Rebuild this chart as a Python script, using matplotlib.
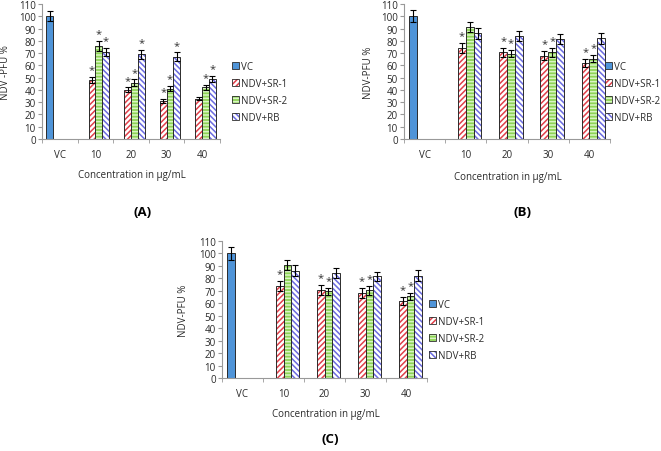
import matplotlib
matplotlib.use("Agg")
import matplotlib.pyplot as plt
import numpy as np
from matplotlib.patches import Patch

plt.rcParams['font.family'] = ['Open Sans', 'DejaVu Sans']
plt.rcParams['hatch.linewidth'] = 1.1

# categories and series
categories = ['VC', '10', '20', '30', '40']
series = ['VC', 'NDV+SR-1', 'NDV+SR-2', 'NDV+RB']

# panel A values (VC only has the VC series)
a_vc = [100]
a_vc_err = [4]
a_sr1 = [48, 40, 31, 33]
a_sr1_err = [2.5, 2, 2, 1.5]
a_sr2 = [76, 46, 41, 42]
a_sr2_err = [4, 2.5, 2, 2]
a_rb = [71, 69, 67, 49]
a_rb_err = [3.5, 3.5, 3.5, 2.5]
a_stars = {'NDV+SR-1': [1, 1, 1, 0], 'NDV+SR-2': [1, 1, 1, 1], 'NDV+RB': [1, 1, 1, 1]}

# panel B / C values
b_vc = [100]
b_vc_err = [5]
b_sr1 = [74, 70.5, 68, 62]
b_sr1_err = [4, 4, 4, 3]
b_sr2 = [91, 69.5, 70.5, 65.5]
b_sr2_err = [4, 3, 3.5, 3]
b_rb = [86, 84, 81.5, 82]
b_rb_err = [4.5, 4, 4, 4.5]
b_stars = {'NDV+SR-1': [1, 1, 1, 1], 'NDV+SR-2': [0, 1, 1, 1], 'NDV+RB': [0, 0, 0, 0]}

styles = {
    'VC': dict(face='#4f94d8', hatch=None, hcol=None),
    'NDV+SR-1': dict(face='white', hatch='//////', hcol='#e0404a'),
    'NDV+SR-2': dict(face='#8ed456', hatch='-----', hcol='#d9f5c4'),
    'NDV+RB': dict(face='white', hatch='\\\\\\\\\\\\', hcol='#6b6be0'),
}
edge = '#2b2b2b'
fs = 7


def draw_panel(rect, vc, vc_err, groups, stars, ylabel, ylab_x, xlab_y, leg_pos, tag, tag_pos):
    ax = fig.add_axes(rect)
    w = 0.19
    offs = {'VC': -1.5 * w, 'NDV+SR-1': -0.5 * w, 'NDV+SR-2': 0.5 * w, 'NDV+RB': 1.5 * w}
    x_conc = np.arange(1, 5)
    # VC bar
    st = styles['VC']
    ax.bar([0 + offs['VC']], vc, w, color=st['face'], edgecolor=edge, linewidth=0.7, zorder=2)
    ax.errorbar([0 + offs['VC']], vc, yerr=vc_err, fmt='none', ecolor='black',
                elinewidth=0.8, capsize=2, capthick=0.8, zorder=3)
    for name, (vals, errs) in groups.items():
        st = styles[name]
        xs = x_conc + offs[name]
        ax.bar(xs, vals, w, color=st['face'], edgecolor=st['hcol'], hatch=st['hatch'],
               linewidth=0, zorder=2)
        ax.bar(xs, vals, w, fill=False, edgecolor=edge, linewidth=0.7, zorder=2.5)
        ax.errorbar(xs, vals, yerr=errs, fmt='none', ecolor='black',
                    elinewidth=0.8, capsize=2, capthick=0.8, zorder=3)
        for xi, v, e, s in zip(xs, vals, errs, stars[name]):
            if s:
                ax.text(xi, v + e + 1.5, '*', ha='center', va='bottom', fontsize=8,
                        color='#333333')
    ax.set_xlim(-0.5, 4.5)
    ax.set_ylim(0, 110)
    ax.set_yticks(np.arange(0, 111, 10))
    ax.set_xticks(np.arange(5))
    ax.set_xticklabels(categories)
    ax.set_xticks(np.arange(-0.5, 4.6, 1), minor=True)
    ax.tick_params(axis='x', which='major', length=0, pad=7, labelsize=fs, colors='#2a2a2a')
    ax.tick_params(axis='x', which='minor', length=3, color='#999999')
    ax.tick_params(axis='y', length=3, pad=1.5, labelsize=fs, colors='#2a2a2a', color='#999999')
    for s in ['top', 'right']:
        ax.spines[s].set_visible(False)
    for s in ['left', 'bottom']:
        ax.spines[s].set_color('#999999')
        ax.spines[s].set_linewidth(0.8)
    ax.set_ylabel(ylabel, fontsize=fs, color='#2a2a2a')
    ax.yaxis.set_label_coords(ylab_x, 0.5)
    ax.set_xlabel('Concentration in µg/mL', fontsize=fs, color='#2a2a2a')
    ax.xaxis.set_label_coords(0.505, xlab_y)
    handles = []
    for n in series:
        st = styles[n]
        if st['hatch'] is None:
            handles.append(Patch(facecolor=st['face'], edgecolor=edge, linewidth=0.6))
        else:
            inner = Patch(facecolor=st['face'], edgecolor=st['hcol'], hatch=st['hatch'], linewidth=0)
            border = Patch(fill=False, edgecolor=edge, linewidth=0.6)
            handles.append((inner, border))
    fig.legend(handles, series, loc='center left', bbox_to_anchor=leg_pos, frameon=False,
               fontsize=fs, handlelength=0.75, handleheight=0.75, handletextpad=0.2,
               labelspacing=0.6, borderpad=0, borderaxespad=0, labelcolor='#2a2a2a')
    fig.text(tag_pos[0], tag_pos[1], tag, ha='center', va='center', fontsize=9.5,
             fontweight='bold')
    return ax


fig = plt.figure(figsize=(6.61, 4.52), dpi=100)
W, H = 661.0, 452.0

groups_a = {'NDV+SR-1': (a_sr1, a_sr1_err), 'NDV+SR-2': (a_sr2, a_sr2_err), 'NDV+RB': (a_rb, a_rb_err)}
groups_b = {'NDV+SR-1': (b_sr1, b_sr1_err), 'NDV+SR-2': (b_sr2, b_sr2_err), 'NDV+RB': (b_rb, b_rb_err)}

draw_panel([42 / W, 1 - 140 / H, 178 / W, 135 / H], a_vc, a_vc_err, groups_a, a_stars,
           'NDV -PFU %', -0.175, -0.22, (232 / W, 1 - 93 / H), '(A)', (143 / W, 1 - 212 / H))
draw_panel([404 / W, 1 - 140 / H, 206 / W, 135 / H], b_vc, b_vc_err, groups_b, b_stars,
           'NDV-PFU %', -0.146, -0.24, (605 / W, 1 - 93 / H), '(B)', (523 / W, 1 - 212 / H))
draw_panel([222 / W, 1 - 379 / H, 205 / W, 137 / H], b_vc, b_vc_err, groups_b, b_stars,
           'NDV-PFU %', -0.16, -0.22, (429 / W, 1 - 331 / H), '(C)', (330 / W, 1 - 440 / H))

fig.savefig('out.png', dpi=100)
